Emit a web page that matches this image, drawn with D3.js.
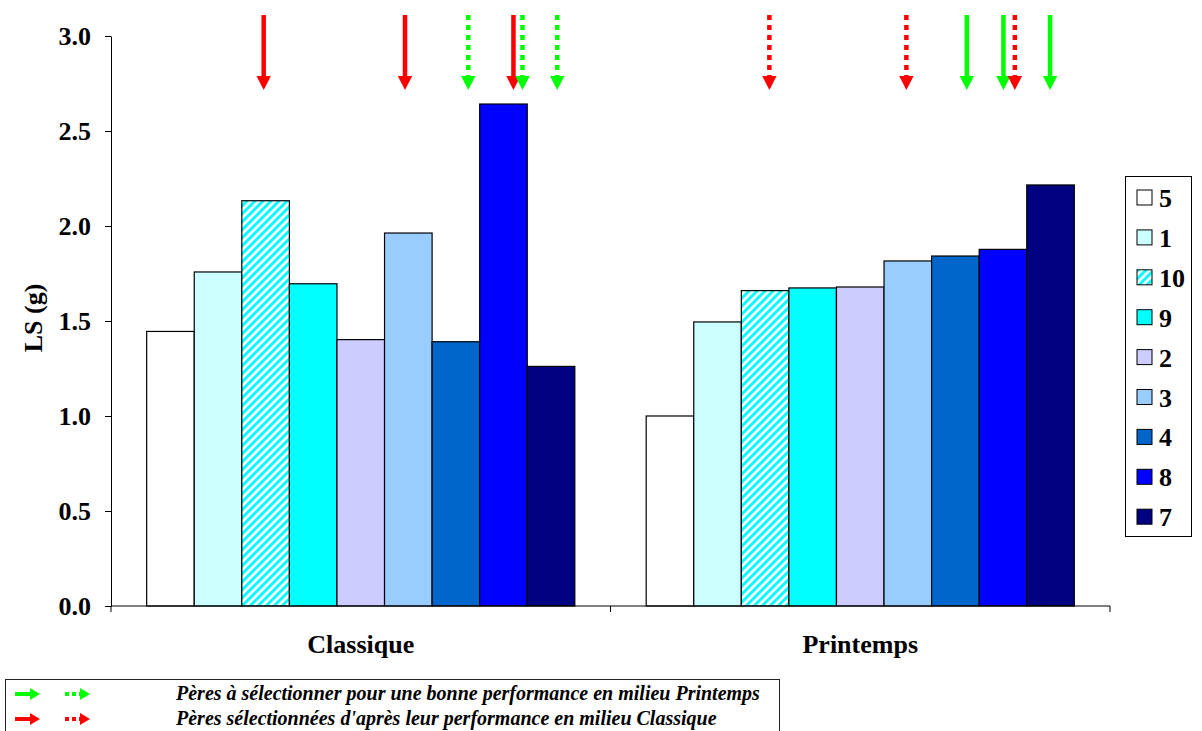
<!DOCTYPE html>
<html>
<head>
<meta charset="utf-8">
<script src="https://cdn.jsdelivr.net/npm/d3@7/dist/d3.min.js"></script>
<style>
  html, body { margin: 0; padding: 0; background: #fff; }
  svg { display: block; }
  text { font-family: "Liberation Serif", "Times New Roman", serif; font-weight: bold; }
</style>
</head>
<body>
<svg id="chart" width="1202" height="731"></svg>
<script>
// ---------------- DATA ----------------
const categories = ["Classique", "Printemps"];
const fathers = ["5", "1", "10", "9", "2", "3", "4", "8", "7"];
const classiqueValues = [1.445, 1.758, 2.133, 1.696, 1.402, 1.963, 1.391, 2.642, 1.261];
const printempsValues = [1.000, 1.495, 1.660, 1.674, 1.679, 1.816, 1.842, 1.877, 2.216];
const yTicks = [0, 0.5, 1.0, 1.5, 2.0, 2.5, 3.0];
const yLabel = "LS (g)";
// fathers selected from their performance in each environment
const selectedClassique = ["10", "3", "8"];   // red arrows
const selectedPrintemps = ["4", "8", "7"];    // green arrows
const legendLines = [
  "Pères à sélectionner pour une bonne performance en milieu Printemps",
  "Pères sélectionnées d'après leur performance en milieu Classique"
];

// ---------------- STYLE / LAYOUT ----------------
const fatherColors = {
  "5": "#FFFFFF", "1": "#CCFFFF", "10": "url(#hatch)", "9": "#00FFFF",
  "2": "#CCCCFF", "3": "#99CCFF", "4": "#0066CC", "8": "#0000FF", "7": "#000080"
};
const RED = "#FF0000", GREEN = "#00FF00";
// small manual horizontal nudges of the drawn arrows (in bar widths)
const arrowNudge = {
  "Classique|red|10": -0.04, "Classique|red|3": -0.07, "Classique|red|8": 0.21,
  "Classique|green|4": 0.26, "Classique|green|8": 0.40, "Classique|green|7": 0.13,
  "Printemps|red|10": 0.09, "Printemps|red|3": -0.03, "Printemps|red|8": 0.25,
  "Printemps|green|4": 0.24, "Printemps|green|8": 0.01, "Printemps|green|7": -0.01
};

const svg = d3.select("#chart");
const plot = { left: 111, right: 1110, top: 36, bottom: 606 };

const defs = svg.append("defs");
const pat = defs.append("pattern").attr("id", "hatch")
  .attr("patternUnits", "userSpaceOnUse").attr("width", 8).attr("height", 8);
pat.append("rect").attr("width", 8).attr("height", 8).attr("fill", "#fff");
pat.append("path").attr("d", "M-2,2 L2,-2 M0,8 L8,0 M6,10 L10,6")
  .attr("stroke", "#00FFFF").attr("stroke-width", 3);

const x0 = d3.scaleBand().domain(categories).range([plot.left, plot.right]).padding(0);
const x1 = d3.scaleBand().domain(fathers).range([0, x0.bandwidth()])
  .paddingInner(0).paddingOuter(0.75);
const y = d3.scaleLinear().domain([0, 3]).range([plot.bottom, plot.top]);

const seriesByCat = { "Classique": classiqueValues, "Printemps": printempsValues };
const barData = [];
categories.forEach(c => fathers.forEach((f, i) => barData.push({ cat: c, father: f, value: seriesByCat[c][i] })));

// bars
svg.append("g").selectAll("rect").data(barData).join("rect")
  .attr("x", d => x0(d.cat) + x1(d.father))
  .attr("y", d => y(d.value))
  .attr("width", x1.bandwidth())
  .attr("height", d => y(0) - y(d.value))
  .attr("fill", d => fatherColors[d.father])
  .attr("stroke", "#000").attr("stroke-width", 1.2);

// y axis
const yAxis = svg.append("g").attr("transform", `translate(${plot.left},0)`)
  .call(d3.axisLeft(y).tickValues(yTicks).tickFormat(d3.format(".1f")).tickSize(6).tickSizeOuter(0).tickPadding(14));
yAxis.selectAll("text").attr("font-size", 26).attr("font-family", "Liberation Serif, serif")
  .attr("font-weight", "bold").attr("fill", "#000");
yAxis.selectAll("line, path").attr("stroke", "#000");

// x axis
const xg = svg.append("g");
xg.append("line").attr("x1", plot.left).attr("x2", plot.right)
  .attr("y1", y(0)).attr("y2", y(0)).attr("stroke", "#000");
const bounds = categories.map(c => x0(c)).concat([x0(categories[categories.length - 1]) + x0.bandwidth()]);
xg.selectAll("line.tk").data(bounds).join("line").attr("class", "tk")
  .attr("x1", d => d).attr("x2", d => d).attr("y1", y(0)).attr("y2", y(0) + 6).attr("stroke", "#000");
xg.selectAll("text").data(categories).join("text")
  .attr("x", d => x0(d) + x0.bandwidth() / 2).attr("y", 653)
  .attr("text-anchor", "middle").attr("font-size", 26).text(d => d);

// y label
svg.append("text").attr("transform", "translate(42,318) rotate(-90)")
  .attr("text-anchor", "middle").attr("font-size", 26).text(yLabel);

// arrows
function drawArrowDown(g, x, yTop, yTip, color, dotted) {
  const head = 14, hw = 7.2;
  g.append("line").attr("x1", x).attr("x2", x).attr("y1", yTop).attr("y2", yTip - head + 1)
    .attr("stroke", color).attr("stroke-width", 4.5)
    .attr("stroke-dasharray", dotted ? "5,5" : null);
  g.append("path").attr("d", `M${x - hw},${yTip - head} L${x + hw},${yTip - head} L${x},${yTip} Z`)
    .attr("fill", color);
}
function drawArrowRight(g, x, yMid, len, color, dotted) {
  const head = 10, hh = 6;
  g.append("line").attr("x1", x).attr("x2", x + len - head + 1).attr("y1", yMid).attr("y2", yMid)
    .attr("stroke", color).attr("stroke-width", 4)
    .attr("stroke-dasharray", dotted ? "4,3" : null);
  g.append("path").attr("d", `M${x + len - head},${yMid - hh} L${x + len - head},${yMid + hh} L${x + len},${yMid} Z`)
    .attr("fill", color);
}

const arrows = [];
categories.forEach(c => {
  selectedClassique.forEach(f => arrows.push({ cat: c, father: f, color: "red", dotted: c !== "Classique" }));
  selectedPrintemps.forEach(f => arrows.push({ cat: c, father: f, color: "green", dotted: c !== "Printemps" }));
});
arrows.sort((a, b) => (a.dotted === b.dotted ? 0 : a.dotted ? 1 : -1));
const ag = svg.append("g");
arrows.forEach(a => {
  const nudge = arrowNudge[`${a.cat}|${a.color}|${a.father}`] || 0;
  const cx = x0(a.cat) + x1(a.father) + x1.bandwidth() * (0.5 + nudge);
  drawArrowDown(ag, cx, 15, 90, a.color === "red" ? RED : GREEN, a.dotted);
});

// right legend
const lg = svg.append("g");
lg.append("rect").attr("x", 1125.5).attr("y", 176.5).attr("width", 66).attr("height", 360)
  .attr("fill", "#fff").attr("stroke", "#000").attr("stroke-width", 1);
fathers.forEach((f, i) => {
  const cy = 198 + i * 39.9;
  lg.append("rect").attr("x", 1137).attr("y", cy - 8).attr("width", 15).attr("height", 15)
    .attr("fill", fatherColors[f]).attr("stroke", "#000").attr("stroke-width", 1);
  lg.append("text").attr("x", 1159).attr("y", cy + 9).attr("font-size", 26).text(f);
});

// bottom legend
const bg = svg.append("g");
bg.append("rect").attr("x", 5.5).attr("y", 679.5).attr("width", 774).attr("height", 60)
  .attr("fill", "#fff").attr("stroke", "#222").attr("stroke-width", 1);
[{ c: GREEN, yy: 694 }, { c: RED, yy: 719 }].forEach((r, i) => {
  drawArrowRight(bg, 15, r.yy, 25, r.c, false);
  drawArrowRight(bg, 65, r.yy, 25, r.c, true);
  bg.append("text").attr("x", 176).attr("y", r.yy + 6).attr("font-size", 20)
    .attr("font-style", "italic").text(legendLines[i]);
});
</script>
</body>
</html>
